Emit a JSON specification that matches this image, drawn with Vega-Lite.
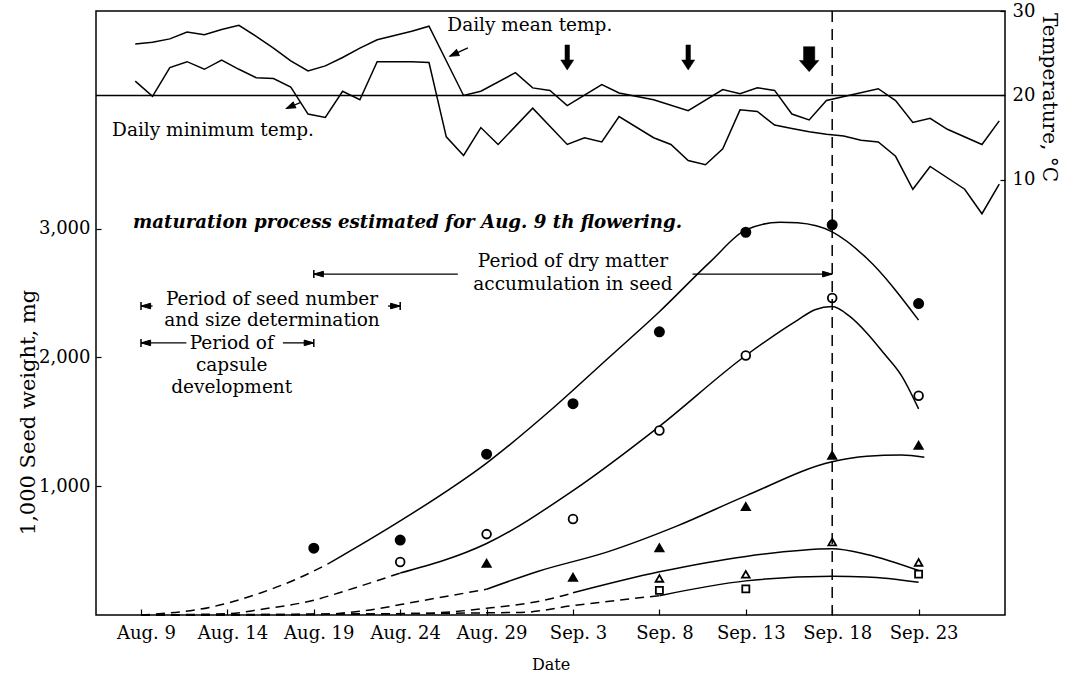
{
"$schema": "https://vega.github.io/schema/vega-lite/v6.json",
"width": 909,
"height": 604,
"autosize": {"type": "none"},
"padding": {"left": 96, "top": 11, "right": 61, "bottom": 61},
"background": "white",
"config": {
  "font": "DejaVu Serif",
  "view": {"stroke": "black", "strokeWidth": 1.5},
  "axis": {"domain": false, "grid": false, "labelFont": "DejaVu Serif", "labelColor": "black", "labelFontSize": 18, "tickColor": "black", "tickWidth": 1.2, "titleFont": "DejaVu Serif", "titleFontWeight": "normal", "titleColor": "black", "labelFlush": false, "labelOverlap": false},
  "text": {"font": "DejaVu Serif", "color": "black"}
},
"datasets": {
  "temps": [
    {"series": "mean", "date": "2000-08-08T16:00Z", "temp": 26.1},
    {"series": "mean", "date": "2000-08-09T16:00Z", "temp": 26.3},
    {"series": "mean", "date": "2000-08-10T16:00Z", "temp": 26.7},
    {"series": "mean", "date": "2000-08-11T16:00Z", "temp": 27.5},
    {"series": "mean", "date": "2000-08-12T16:00Z", "temp": 27.2},
    {"series": "mean", "date": "2000-08-13T16:00Z", "temp": 27.8},
    {"series": "mean", "date": "2000-08-14T16:00Z", "temp": 28.3},
    {"series": "mean", "date": "2000-08-15T16:00Z", "temp": 27.0},
    {"series": "mean", "date": "2000-08-16T16:00Z", "temp": 25.6},
    {"series": "mean", "date": "2000-08-17T16:00Z", "temp": 24.1},
    {"series": "mean", "date": "2000-08-18T16:00Z", "temp": 22.9},
    {"series": "mean", "date": "2000-08-19T16:00Z", "temp": 23.5},
    {"series": "mean", "date": "2000-08-20T16:00Z", "temp": 24.5},
    {"series": "mean", "date": "2000-08-21T16:00Z", "temp": 25.6},
    {"series": "mean", "date": "2000-08-22T16:00Z", "temp": 26.6},
    {"series": "mean", "date": "2000-08-23T16:00Z", "temp": 27.1},
    {"series": "mean", "date": "2000-08-24T16:00Z", "temp": 27.6},
    {"series": "mean", "date": "2000-08-25T16:00Z", "temp": 28.2},
    {"series": "mean", "date": "2000-08-27T16:00Z", "temp": 20.0},
    {"series": "mean", "date": "2000-08-28T16:00Z", "temp": 20.5},
    {"series": "mean", "date": "2000-08-30T16:00Z", "temp": 22.7},
    {"series": "mean", "date": "2000-08-31T16:00Z", "temp": 20.9},
    {"series": "mean", "date": "2000-09-01T16:00Z", "temp": 20.6},
    {"series": "mean", "date": "2000-09-02T16:00Z", "temp": 18.8},
    {"series": "mean", "date": "2000-09-04T16:00Z", "temp": 21.3},
    {"series": "mean", "date": "2000-09-05T16:00Z", "temp": 20.3},
    {"series": "mean", "date": "2000-09-07T16:00Z", "temp": 19.5},
    {"series": "mean", "date": "2000-09-09T16:00Z", "temp": 18.2},
    {"series": "mean", "date": "2000-09-11T16:00Z", "temp": 20.7},
    {"series": "mean", "date": "2000-09-12T16:00Z", "temp": 20.2},
    {"series": "mean", "date": "2000-09-13T16:00Z", "temp": 20.9},
    {"series": "mean", "date": "2000-09-14T16:00Z", "temp": 20.6},
    {"series": "mean", "date": "2000-09-15T16:00Z", "temp": 17.8},
    {"series": "mean", "date": "2000-09-16T16:00Z", "temp": 17.1},
    {"series": "mean", "date": "2000-09-17T16:00Z", "temp": 19.4},
    {"series": "mean", "date": "2000-09-20T16:00Z", "temp": 20.8},
    {"series": "mean", "date": "2000-09-21T16:00Z", "temp": 19.4},
    {"series": "mean", "date": "2000-09-22T16:00Z", "temp": 16.8},
    {"series": "mean", "date": "2000-09-23T16:00Z", "temp": 17.3},
    {"series": "mean", "date": "2000-09-24T16:00Z", "temp": 16.0},
    {"series": "mean", "date": "2000-09-26T16:00Z", "temp": 14.2},
    {"series": "mean", "date": "2000-09-27T16:00Z", "temp": 17.0},
    {"series": "min", "date": "2000-08-08T16:00Z", "temp": 21.7},
    {"series": "min", "date": "2000-08-09T16:00Z", "temp": 19.9},
    {"series": "min", "date": "2000-08-10T16:00Z", "temp": 23.3},
    {"series": "min", "date": "2000-08-11T16:00Z", "temp": 24.0},
    {"series": "min", "date": "2000-08-12T16:00Z", "temp": 23.1},
    {"series": "min", "date": "2000-08-13T16:00Z", "temp": 24.2},
    {"series": "min", "date": "2000-08-14T16:00Z", "temp": 23.1},
    {"series": "min", "date": "2000-08-15T16:00Z", "temp": 22.1},
    {"series": "min", "date": "2000-08-16T16:00Z", "temp": 22.0},
    {"series": "min", "date": "2000-08-17T16:00Z", "temp": 21.0},
    {"series": "min", "date": "2000-08-18T16:00Z", "temp": 17.8},
    {"series": "min", "date": "2000-08-19T16:00Z", "temp": 17.4},
    {"series": "min", "date": "2000-08-20T16:00Z", "temp": 20.5},
    {"series": "min", "date": "2000-08-21T16:00Z", "temp": 19.5},
    {"series": "min", "date": "2000-08-22T16:00Z", "temp": 24.0},
    {"series": "min", "date": "2000-08-23T16:00Z", "temp": 24.0},
    {"series": "min", "date": "2000-08-24T16:00Z", "temp": 24.0},
    {"series": "min", "date": "2000-08-25T16:00Z", "temp": 23.9},
    {"series": "min", "date": "2000-08-26T16:00Z", "temp": 15.1},
    {"series": "min", "date": "2000-08-27T16:00Z", "temp": 12.9},
    {"series": "min", "date": "2000-08-28T16:00Z", "temp": 16.2},
    {"series": "min", "date": "2000-08-29T16:00Z", "temp": 14.2},
    {"series": "min", "date": "2000-08-31T16:00Z", "temp": 18.5},
    {"series": "min", "date": "2000-09-02T16:00Z", "temp": 14.2},
    {"series": "min", "date": "2000-09-03T16:00Z", "temp": 15.0},
    {"series": "min", "date": "2000-09-04T16:00Z", "temp": 14.5},
    {"series": "min", "date": "2000-09-05T16:00Z", "temp": 17.5},
    {"series": "min", "date": "2000-09-07T16:00Z", "temp": 15.0},
    {"series": "min", "date": "2000-09-08T16:00Z", "temp": 14.2},
    {"series": "min", "date": "2000-09-09T16:00Z", "temp": 12.3},
    {"series": "min", "date": "2000-09-10T16:00Z", "temp": 11.8},
    {"series": "min", "date": "2000-09-11T16:00Z", "temp": 13.7},
    {"series": "min", "date": "2000-09-12T16:00Z", "temp": 18.3},
    {"series": "min", "date": "2000-09-13T16:00Z", "temp": 18.1},
    {"series": "min", "date": "2000-09-14T16:00Z", "temp": 16.5},
    {"series": "min", "date": "2000-09-15T16:00Z", "temp": 16.1},
    {"series": "min", "date": "2000-09-16T16:00Z", "temp": 15.7},
    {"series": "min", "date": "2000-09-17T16:00Z", "temp": 15.4},
    {"series": "min", "date": "2000-09-18T16:00Z", "temp": 15.2},
    {"series": "min", "date": "2000-09-19T16:00Z", "temp": 14.7},
    {"series": "min", "date": "2000-09-20T16:00Z", "temp": 14.5},
    {"series": "min", "date": "2000-09-21T16:00Z", "temp": 12.8},
    {"series": "min", "date": "2000-09-22T16:00Z", "temp": 8.9},
    {"series": "min", "date": "2000-09-23T16:00Z", "temp": 11.6},
    {"series": "min", "date": "2000-09-25T16:00Z", "temp": 8.9},
    {"series": "min", "date": "2000-09-26T16:00Z", "temp": 6.0},
    {"series": "min", "date": "2000-09-27T16:00Z", "temp": 9.5}
  ],
  "seeds": [
    {"symbol": "filled circle", "date": "2000-08-19", "weight": 519},
    {"symbol": "filled circle", "date": "2000-08-24", "weight": 582},
    {"symbol": "filled circle", "date": "2000-08-29", "weight": 1249},
    {"symbol": "filled circle", "date": "2000-09-03", "weight": 1641},
    {"symbol": "filled circle", "date": "2000-09-08", "weight": 2199},
    {"symbol": "filled circle", "date": "2000-09-13", "weight": 2972},
    {"symbol": "filled circle", "date": "2000-09-18", "weight": 3030},
    {"symbol": "filled circle", "date": "2000-09-23", "weight": 2418},
    {"symbol": "open circle", "date": "2000-08-24", "weight": 411},
    {"symbol": "open circle", "date": "2000-08-29", "weight": 628},
    {"symbol": "open circle", "date": "2000-09-03", "weight": 746},
    {"symbol": "open circle", "date": "2000-09-08", "weight": 1433},
    {"symbol": "open circle", "date": "2000-09-13", "weight": 2015},
    {"symbol": "open circle", "date": "2000-09-18", "weight": 2461},
    {"symbol": "open circle", "date": "2000-09-23", "weight": 1702},
    {"symbol": "filled triangle", "date": "2000-08-29", "weight": 401},
    {"symbol": "filled triangle", "date": "2000-09-03", "weight": 293},
    {"symbol": "filled triangle", "date": "2000-09-08", "weight": 522},
    {"symbol": "filled triangle", "date": "2000-09-13", "weight": 842},
    {"symbol": "filled triangle", "date": "2000-09-18", "weight": 1240},
    {"symbol": "filled triangle", "date": "2000-09-23", "weight": 1318},
    {"symbol": "open triangle", "date": "2000-09-08", "weight": 284},
    {"symbol": "open triangle", "date": "2000-09-13", "weight": 316},
    {"symbol": "open triangle", "date": "2000-09-18", "weight": 567},
    {"symbol": "open triangle", "date": "2000-09-23", "weight": 408},
    {"symbol": "open square", "date": "2000-09-08", "weight": 191},
    {"symbol": "open square", "date": "2000-09-13", "weight": 203},
    {"symbol": "open square", "date": "2000-09-23", "weight": 317}
  ],
  "curves": [
    {"curve": "filled circle", "part": "dashed", "date": "2000-08-09", "weight": 0},
    {"curve": "filled circle", "part": "dashed", "date": "2000-08-13", "weight": 60},
    {"curve": "filled circle", "part": "dashed", "date": "2000-08-16", "weight": 175},
    {"curve": "filled circle", "part": "dashed", "date": "2000-08-18", "weight": 279},
    {"curve": "filled circle", "part": "dashed", "date": "2000-08-20", "weight": 410},
    {"curve": "filled circle", "part": "solid", "date": "2000-08-20", "weight": 410},
    {"curve": "filled circle", "part": "solid", "date": "2000-08-24", "weight": 730},
    {"curve": "filled circle", "part": "solid", "date": "2000-08-29", "weight": 1180},
    {"curve": "filled circle", "part": "solid", "date": "2000-09-02", "weight": 1625},
    {"curve": "filled circle", "part": "solid", "date": "2000-09-05", "weight": 1990},
    {"curve": "filled circle", "part": "solid", "date": "2000-09-08", "weight": 2355},
    {"curve": "filled circle", "part": "solid", "date": "2000-09-11", "weight": 2750},
    {"curve": "filled circle", "part": "solid", "date": "2000-09-13", "weight": 2990},
    {"curve": "filled circle", "part": "solid", "date": "2000-09-15", "weight": 3050},
    {"curve": "filled circle", "part": "solid", "date": "2000-09-16", "weight": 3045},
    {"curve": "filled circle", "part": "solid", "date": "2000-09-18", "weight": 2975},
    {"curve": "filled circle", "part": "solid", "date": "2000-09-20", "weight": 2770},
    {"curve": "filled circle", "part": "solid", "date": "2000-09-23", "weight": 2290},
    {"curve": "open circle", "part": "dashed", "date": "2000-08-09", "weight": 0},
    {"curve": "open circle", "part": "dashed", "date": "2000-08-14", "weight": 10},
    {"curve": "open circle", "part": "dashed", "date": "2000-08-16", "weight": 45},
    {"curve": "open circle", "part": "dashed", "date": "2000-08-19", "weight": 115},
    {"curve": "open circle", "part": "dashed", "date": "2000-08-21", "weight": 195},
    {"curve": "open circle", "part": "dashed", "date": "2000-08-24", "weight": 326},
    {"curve": "open circle", "part": "solid", "date": "2000-08-24", "weight": 326},
    {"curve": "open circle", "part": "solid", "date": "2000-08-29", "weight": 555},
    {"curve": "open circle", "part": "solid", "date": "2000-09-03", "weight": 966},
    {"curve": "open circle", "part": "solid", "date": "2000-09-08", "weight": 1465},
    {"curve": "open circle", "part": "solid", "date": "2000-09-13", "weight": 2015},
    {"curve": "open circle", "part": "solid", "date": "2000-09-16", "weight": 2290},
    {"curve": "open circle", "part": "solid", "date": "2000-09-17", "weight": 2370},
    {"curve": "open circle", "part": "solid", "date": "2000-09-18", "weight": 2395},
    {"curve": "open circle", "part": "solid", "date": "2000-09-19", "weight": 2320},
    {"curve": "open circle", "part": "solid", "date": "2000-09-20", "weight": 2190},
    {"curve": "open circle", "part": "solid", "date": "2000-09-21", "weight": 2030},
    {"curve": "open circle", "part": "solid", "date": "2000-09-22", "weight": 1860},
    {"curve": "open circle", "part": "solid", "date": "2000-09-23", "weight": 1600},
    {"curve": "filled triangle", "part": "dashed", "date": "2000-08-09", "weight": 0},
    {"curve": "filled triangle", "part": "dashed", "date": "2000-08-19", "weight": 3},
    {"curve": "filled triangle", "part": "dashed", "date": "2000-08-22", "weight": 35},
    {"curve": "filled triangle", "part": "dashed", "date": "2000-08-25", "weight": 105},
    {"curve": "filled triangle", "part": "dashed", "date": "2000-08-29", "weight": 200},
    {"curve": "filled triangle", "part": "solid", "date": "2000-08-29", "weight": 200},
    {"curve": "filled triangle", "part": "solid", "date": "2000-09-01", "weight": 340},
    {"curve": "filled triangle", "part": "solid", "date": "2000-09-05", "weight": 490},
    {"curve": "filled triangle", "part": "solid", "date": "2000-09-09", "weight": 690},
    {"curve": "filled triangle", "part": "solid", "date": "2000-09-13", "weight": 925},
    {"curve": "filled triangle", "part": "solid", "date": "2000-09-18", "weight": 1190},
    {"curve": "filled triangle", "part": "solid", "date": "2000-09-20", "weight": 1232},
    {"curve": "filled triangle", "part": "solid", "date": "2000-09-22", "weight": 1242},
    {"curve": "filled triangle", "part": "solid", "date": "2000-09-23T08:00Z", "weight": 1225},
    {"curve": "open triangle", "part": "dashed", "date": "2000-08-09", "weight": 0},
    {"curve": "open triangle", "part": "dashed", "date": "2000-08-25", "weight": 12},
    {"curve": "open triangle", "part": "dashed", "date": "2000-08-29", "weight": 52},
    {"curve": "open triangle", "part": "dashed", "date": "2000-09-02", "weight": 135},
    {"curve": "open triangle", "part": "dashed", "date": "2000-09-03", "weight": 172},
    {"curve": "open triangle", "part": "solid", "date": "2000-09-03", "weight": 172},
    {"curve": "open triangle", "part": "solid", "date": "2000-09-08", "weight": 335},
    {"curve": "open triangle", "part": "solid", "date": "2000-09-13", "weight": 455},
    {"curve": "open triangle", "part": "solid", "date": "2000-09-18", "weight": 514},
    {"curve": "open triangle", "part": "solid", "date": "2000-09-20", "weight": 470},
    {"curve": "open triangle", "part": "solid", "date": "2000-09-23", "weight": 345},
    {"curve": "open square", "part": "dashed", "date": "2000-08-09", "weight": 0},
    {"curve": "open square", "part": "dashed", "date": "2000-08-31", "weight": 20},
    {"curve": "open square", "part": "dashed", "date": "2000-09-03", "weight": 73},
    {"curve": "open square", "part": "dashed", "date": "2000-09-08", "weight": 150},
    {"curve": "open square", "part": "solid", "date": "2000-09-08", "weight": 150},
    {"curve": "open square", "part": "solid", "date": "2000-09-13", "weight": 265},
    {"curve": "open square", "part": "solid", "date": "2000-09-18", "weight": 300},
    {"curve": "open square", "part": "solid", "date": "2000-09-20", "weight": 296},
    {"curve": "open square", "part": "solid", "date": "2000-09-23", "weight": 255}
  ],
  "periods": [
    {"period": "dry matter", "date": "2000-08-19", "date2": "2000-08-27T08:00Z", "weight": 2647},
    {"period": "dry matter", "date": "2000-09-09T22:00Z", "date2": "2000-09-18", "weight": 2647},
    {"period": "seed number", "date": "2000-08-09", "date2": "2000-08-09T16:00Z", "weight": 2399},
    {"period": "seed number", "date": "2000-08-23T07:00Z", "date2": "2000-08-24", "weight": 2399},
    {"period": "capsule", "date": "2000-08-09", "date2": "2000-08-11T15:00Z", "weight": 2113},
    {"period": "capsule", "date": "2000-08-17T05:00Z", "date2": "2000-08-19", "weight": 2113}
  ],
  "periodEnds": [
    {"date": "2000-08-19", "weight": 2647, "end": "bar"},
    {"date": "2000-08-19", "weight": 2647, "end": "head left"},
    {"date": "2000-09-18", "weight": 2647, "end": "head right"},
    {"date": "2000-08-09", "weight": 2399, "end": "bar"},
    {"date": "2000-08-09", "weight": 2399, "end": "head left"},
    {"date": "2000-08-24", "weight": 2399, "end": "bar"},
    {"date": "2000-08-24", "weight": 2399, "end": "head right"},
    {"date": "2000-08-09", "weight": 2113, "end": "bar"},
    {"date": "2000-08-09", "weight": 2113, "end": "head left"},
    {"date": "2000-08-19", "weight": 2113, "end": "bar"},
    {"date": "2000-08-19", "weight": 2113, "end": "head right"}
  ],
  "notes": [
    {"date": "2000-09-03", "weight": 2752, "text": "Period of dry matter"},
    {"date": "2000-09-03", "weight": 2573, "text": "accumulation in seed"},
    {"date": "2000-08-16T14:00Z", "weight": 2454, "text": "Period of seed number"},
    {"date": "2000-08-16T14:00Z", "weight": 2291, "text": "and size determination"},
    {"date": "2000-08-14T06:00Z", "weight": 2114, "text": "Period of"},
    {"date": "2000-08-14T06:00Z", "weight": 1943, "text": "capsule"},
    {"date": "2000-08-14T06:00Z", "weight": 1773, "text": "development"}
  ],
  "title": [
    {"date": "2000-08-08T13:00Z", "weight": 3045, "text": "maturation process estimated for Aug. 9 th flowering."}
  ],
  "markers": [
    {"date": "2000-09-18"}
  ],
  "tempNotes": [
    {"date": "2000-08-31T12:00Z", "temp": 28.3, "text": "Daily mean temp."},
    {"date": "2000-08-13T04:00Z", "temp": 15.96, "text": "Daily minimum temp."}
  ],
  "pointers": [
    {"series": "mean", "date": "2000-08-27T22:00Z", "temp": 25.64, "date2": "2000-08-26T21:00Z", "temp2": 24.66},
    {"series": "min", "date": "2000-08-18T05:00Z", "temp": 19.16, "date2": "2000-08-17T10:00Z", "temp2": 18.46}
  ],
  "downArrows": [
    {"date": "2000-09-02T16:00Z", "temp": 24.5, "kind": "thin"},
    {"date": "2000-09-09T16:00Z", "temp": 24.5, "kind": "thin"},
    {"date": "2000-09-16T16:00Z", "temp": 24.3, "kind": "thick"}
  ],
  "reference": [
    {"temp": 20}
  ]
},
"layer": [
  {
    "data": {"name": "curves"},
    "transform": [{"filter": "datum.part === 'solid'"}],
    "mark": {"type": "line", "interpolate": "monotone", "stroke": "black", "strokeWidth": 1.5},
    "encoding": {
      "x": {"field": "date", "type": "temporal",
        "scale": {"type": "utc", "domain": [{"year": 2000, "month": 8, "date": 6, "hours": 9, "minutes": 30, "utc": true}, {"year": 2000, "month": 9, "date": 28, "utc": true}]},
        "axis": {"title": "Date", "orient": "bottom",
          "values": [{"year": 2000, "month": 8, "date": 9, "utc": true}, {"year": 2000, "month": 8, "date": 14, "utc": true}, {"year": 2000, "month": 8, "date": 19, "utc": true}, {"year": 2000, "month": 8, "date": 24, "utc": true}, {"year": 2000, "month": 8, "date": 29, "utc": true}, {"year": 2000, "month": 9, "date": 3, "utc": true}, {"year": 2000, "month": 9, "date": 8, "utc": true}, {"year": 2000, "month": 9, "date": 13, "utc": true}, {"year": 2000, "month": 9, "date": 18, "utc": true}, {"year": 2000, "month": 9, "date": 23, "utc": true}],
          "labelExpr": "utcFormat(datum.value, '%b. %-d')",
          "tickSize": -6, "labelPadding": 15, "labelOffset": 5, "labelFontSize": 18,
          "titleFontSize": 16, "titleY": 49, "titleBaseline": "middle"}},
      "y": {"field": "weight", "type": "quantitative", "scale": {"domain": [0, 4690], "nice": false},
        "axis": {"orient": "left", "values": [1000, 2000, 3000], "format": ",.0f", "tickSize": -5, "labelPadding": 11, "labelFontSize": 18,
          "title": "1,000 Seed weight, mg", "titleFontSize": 21, "titleX": -68, "titleY": 401, "titleAngle": -90, "titleBaseline": "middle", "titleAlign": "center"}},
      "detail": {"field": "curve"}
    }
  },
  {
    "data": {"name": "curves"},
    "transform": [{"filter": "datum.part === 'dashed'"}],
    "mark": {"type": "line", "interpolate": "monotone", "stroke": "black", "strokeWidth": 1.5, "strokeDash": [9, 6]},
    "encoding": {
      "x": {"field": "date", "type": "temporal"},
      "y": {"field": "weight", "type": "quantitative", "scale": {"domain": [0, 4690], "nice": false}, "axis": null},
      "detail": {"field": "curve"}
    }
  },
  {
    "data": {"name": "seeds"},
    "mark": {"type": "point", "filled": true, "stroke": "black", "strokeWidth": 1.8, "opacity": 1},
    "encoding": {
      "x": {"field": "date", "type": "temporal"},
      "y": {"field": "weight", "type": "quantitative", "scale": {"domain": [0, 4690], "nice": false}, "axis": null},
      "shape": {"field": "symbol", "type": "nominal", "legend": null,
        "scale": {"domain": ["filled circle", "open circle", "filled triangle", "open triangle", "open square"], "range": ["circle", "circle", "triangle-up", "triangle-up", "square"]}},
      "fill": {"field": "symbol", "type": "nominal", "legend": null,
        "scale": {"domain": ["filled circle", "open circle", "filled triangle", "open triangle", "open square"], "range": ["black", "white", "black", "white", "white"]}},
      "size": {"field": "symbol", "type": "ordinal", "legend": null,
        "scale": {"domain": ["filled circle", "open circle", "filled triangle", "open triangle", "open square"], "range": [85, 50, 140, 90, 50]}}
    }
  },
  {
    "data": {"name": "markers"},
    "mark": {"type": "rule", "color": "black", "strokeWidth": 1.5, "strokeDash": [11, 7]},
    "encoding": {
      "x": {"field": "date", "type": "temporal"}
    }
  },
  {
    "data": {"name": "periods"},
    "mark": {"type": "rule", "color": "black", "strokeWidth": 1.3},
    "encoding": {
      "x": {"field": "date", "type": "temporal"},
      "x2": {"field": "date2"},
      "y": {"field": "weight", "type": "quantitative", "scale": {"domain": [0, 4690], "nice": false}, "axis": null}
    }
  },
  {
    "data": {"name": "periodEnds"},
    "transform": [{"filter": "datum.end === 'bar'"}],
    "mark": {"type": "point", "shape": "M0,-1L0,1", "filled": false, "stroke": "black", "strokeWidth": 1.5, "size": 64, "opacity": 1},
    "encoding": {
      "x": {"field": "date", "type": "temporal"},
      "y": {"field": "weight", "type": "quantitative", "scale": {"domain": [0, 4690], "nice": false}, "axis": null}
    }
  },
  {
    "data": {"name": "periodEnds"},
    "transform": [{"filter": "datum.end === 'head left'"}],
    "mark": {"type": "point", "shape": "M0,0L2.4,-0.7L2.4,0.7Z", "filled": true, "fill": "black", "stroke": "black", "strokeWidth": 1, "size": 64, "opacity": 1},
    "encoding": {
      "x": {"field": "date", "type": "temporal"},
      "y": {"field": "weight", "type": "quantitative", "scale": {"domain": [0, 4690], "nice": false}, "axis": null}
    }
  },
  {
    "data": {"name": "periodEnds"},
    "transform": [{"filter": "datum.end === 'head right'"}],
    "mark": {"type": "point", "shape": "M0,0L-2.4,-0.7L-2.4,0.7Z", "filled": true, "fill": "black", "stroke": "black", "strokeWidth": 1, "size": 64, "opacity": 1},
    "encoding": {
      "x": {"field": "date", "type": "temporal"},
      "y": {"field": "weight", "type": "quantitative", "scale": {"domain": [0, 4690], "nice": false}, "axis": null}
    }
  },
  {
    "data": {"name": "notes"},
    "mark": {"type": "text", "font": "DejaVu Serif", "fontSize": 18.5, "align": "center", "baseline": "middle", "color": "black"},
    "encoding": {
      "x": {"field": "date", "type": "temporal"},
      "y": {"field": "weight", "type": "quantitative", "scale": {"domain": [0, 4690], "nice": false}, "axis": null},
      "text": {"field": "text"}
    }
  },
  {
    "data": {"name": "title"},
    "mark": {"type": "text", "font": "DejaVu Serif", "fontSize": 18.2, "fontStyle": "italic", "fontWeight": "bold", "align": "left", "baseline": "middle", "color": "black"},
    "encoding": {
      "x": {"field": "date", "type": "temporal"},
      "y": {"field": "weight", "type": "quantitative", "scale": {"domain": [0, 4690], "nice": false}, "axis": null},
      "text": {"field": "text"}
    }
  },
  {
    "data": {"name": "temps"},
    "mark": {"type": "line", "stroke": "black", "strokeWidth": 1.5},
    "encoding": {
      "x": {"field": "date", "type": "temporal"},
      "y": {"field": "temp", "type": "quantitative", "scale": {"domain": [-41.5, 30], "nice": false},
        "axis": {"orient": "right", "values": [10, 20, 30], "tickSize": -5, "labelPadding": 12, "labelFontSize": 18,
          "title": "Temperature, °C", "titleFontSize": 20, "titleX": 43, "titleY": 86, "titleAngle": 90, "titleBaseline": "middle", "titleAlign": "center"}},
      "detail": {"field": "series"}
    }
  },
  {
    "data": {"name": "reference"},
    "mark": {"type": "rule", "color": "black", "strokeWidth": 1.5},
    "encoding": {
      "y": {"field": "temp", "type": "quantitative", "scale": {"domain": [-41.5, 30], "nice": false}, "axis": null}
    }
  },
  {
    "data": {"name": "pointers"},
    "mark": {"type": "rule", "color": "black", "strokeWidth": 1.3},
    "encoding": {
      "x": {"field": "date", "type": "temporal"},
      "x2": {"field": "date2"},
      "y": {"field": "temp", "type": "quantitative", "scale": {"domain": [-41.5, 30], "nice": false}, "axis": null},
      "y2": {"field": "temp2"}
    }
  },
  {
    "data": {"name": "pointers"},
    "mark": {"type": "point", "filled": true, "fill": "black", "stroke": "black", "strokeWidth": 1, "size": 64, "opacity": 1, "shape": "M0,0L2.2,-0.8L2.2,0.8Z", "angle": 336},
    "encoding": {
      "x": {"field": "date2", "type": "temporal"},
      "y": {"field": "temp2", "type": "quantitative", "scale": {"domain": [-41.5, 30], "nice": false}, "axis": null}
    }
  },
  {
    "data": {"name": "downArrows"},
    "transform": [{"filter": "datum.kind === 'thin'"}],
    "mark": {"type": "point", "shape": "M-0.18,-1L0.18,-1L0.18,0.2L0.52,0.2L0,1L-0.52,0.2L-0.18,0.2Z", "filled": true, "fill": "black", "stroke": "black", "strokeWidth": 0.5, "size": 625, "opacity": 1},
    "encoding": {
      "x": {"field": "date", "type": "temporal"},
      "y": {"field": "temp", "type": "quantitative", "scale": {"domain": [-41.5, 30], "nice": false}, "axis": null}
    }
  },
  {
    "data": {"name": "downArrows"},
    "transform": [{"filter": "datum.kind === 'thick'"}],
    "mark": {"type": "point", "shape": "M-0.45,-1L0.45,-1L0.45,0.1L0.78,0.1L0,1L-0.78,0.1L-0.45,0.1Z", "filled": true, "fill": "black", "stroke": "black", "strokeWidth": 0.5, "size": 625, "opacity": 1},
    "encoding": {
      "x": {"field": "date", "type": "temporal"},
      "y": {"field": "temp", "type": "quantitative", "scale": {"domain": [-41.5, 30], "nice": false}, "axis": null}
    }
  },
  {
    "data": {"name": "tempNotes"},
    "mark": {"type": "text", "font": "DejaVu Serif", "fontSize": 18.5, "align": "center", "baseline": "middle", "color": "black"},
    "encoding": {
      "x": {"field": "date", "type": "temporal"},
      "y": {"field": "temp", "type": "quantitative", "scale": {"domain": [-41.5, 30], "nice": false}, "axis": null},
      "text": {"field": "text"}
    }
  }
],
"resolve": {"scale": {"y": "independent", "shape": "independent", "fill": "independent", "size": "independent"}}
}
